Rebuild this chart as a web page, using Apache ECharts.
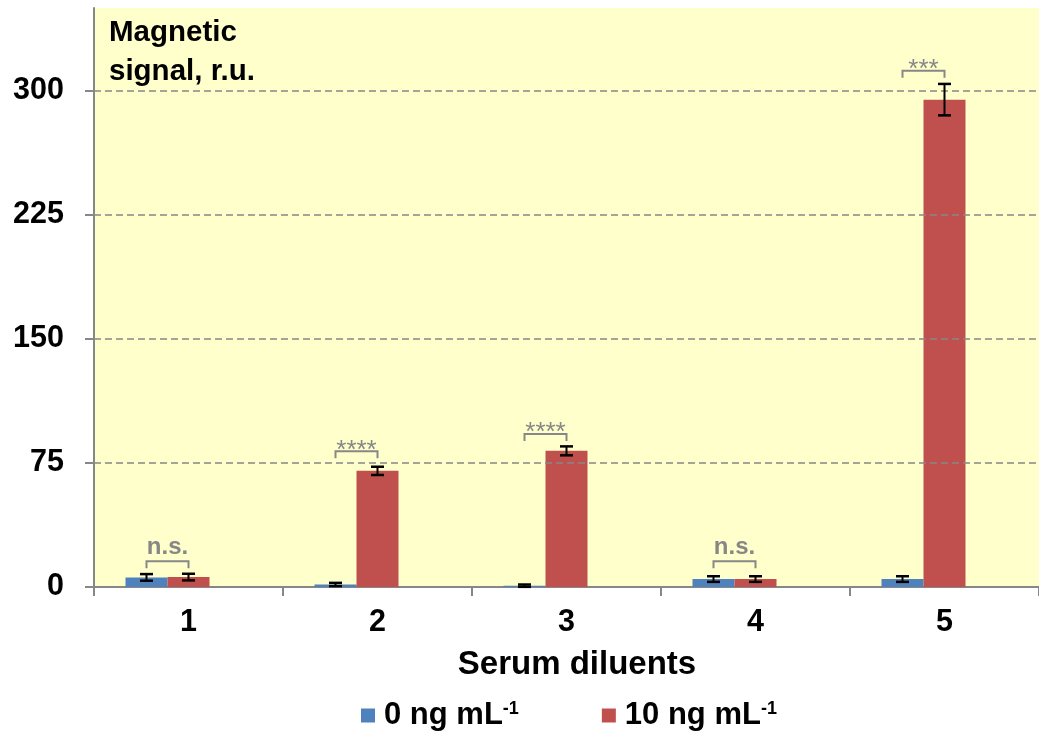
<!DOCTYPE html>
<html>
<head>
<meta charset="utf-8">
<script src="https://cdn.jsdelivr.net/npm/echarts@6/dist/echarts.min.js"></script>
<style>
html,body{margin:0;padding:0;background:#fff;}
#chart{width:1039px;height:735px;}
</style>
</head>
<body>
<div id="chart"></div>
<script>
const categories = ['1', '2', '3', '4', '5'];
const zeroNg = [5.8, 1.5, 0.8, 4.8, 4.8];
const tenNg = [6.0, 70.2, 82.3, 4.8, 294.6];
const zeroErr = [2.0, 1.0, 0.7, 1.7, 1.7];
const tenErr = [2.0, 2.5, 2.7, 1.7, 9.5];
const bracketLevel = [15.5, 82, 92.5, 15.5, 312];
const bracketLabel = ['n.s.', '****', '****', 'n.s.', '***'];
const yTicks = [0, 75, 150, 225, 300];
const seriesNames = ['0 ng mL-1', '10 ng mL-1'];

const FONT = '"Liberation Sans", Arial, sans-serif';
const BLUE = '#4F81BD';
const RED = '#C0504D';
const GRAY = '#878787';
const BAR_W = 42;

const chart = echarts.init(document.getElementById('chart'));

function errorRender(dx) {
  return function (params, api) {
    const i = api.value(0), m = api.value(1), e = api.value(2);
    const c = api.coord([i, m]);
    const lo = api.coord([i, m - e]);
    const hi = api.coord([i, m + e]);
    const x = c[0] + dx;
    const hw = 6.5;
    const st = { stroke: '#000', lineWidth: 2 };
    return {
      type: 'group',
      children: [
        { type: 'line', shape: { x1: x, y1: lo[1], x2: x, y2: hi[1] }, style: st },
        { type: 'line', shape: { x1: x - hw, y1: lo[1], x2: x + hw, y2: lo[1] }, style: { stroke: '#000', lineWidth: 2.5 } },
        { type: 'line', shape: { x1: x - hw, y1: hi[1], x2: x + hw, y2: hi[1] }, style: { stroke: '#000', lineWidth: 2.5 } }
      ]
    };
  };
}

function bracketRender(params, api) {
  const i = api.value(0), lv = api.value(1);
  const p = api.coord([i, lv]);
  const x1 = p[0] - BAR_W, x2 = p[0];
  const y = p[1];
  const leg = 7;
  const lbl = bracketLabel[params.dataIndex];
  const isStar = lbl.indexOf('*') >= 0;
  return {
    type: 'group',
    children: [
      {
        type: 'polyline',
        shape: { points: [[x1, y + leg], [x1, y], [x2, y], [x2, y + leg]] },
        style: { stroke: GRAY, lineWidth: 2, fill: null }
      },
      {
        type: 'text',
        style: {
          text: lbl,
          x: (x1 + x2) / 2,
          y: isStar ? y - 1 : y - 14,
          textAlign: 'center',
          textVerticalAlign: 'middle',
          fill: GRAY,
          font: (isStar ? 'normal ' : 'bold ') + (isStar ? 26 : 24) + 'px ' + FONT
        }
      }
    ]
  };
}

const option = {
  backgroundColor: '#ffffff',
  animation: false,
  title: [
    {
      text: 'Magnetic\nsignal, r.u.',
      left: 109, top: 13, padding: 0,
      textStyle: { fontFamily: FONT, fontWeight: 'bold', fontSize: 29.5, lineHeight: 39, color: '#000' }
    },
    {
      text: 'Serum diluents',
      left: 577, top: 648, textAlign: 'center', padding: 0,
      textStyle: { fontFamily: FONT, fontWeight: 'bold', fontSize: 33, color: '#000' }
    }
  ],
  legend: {
    data: seriesNames,
    left: 361, top: 700, padding: 0,
    icon: 'rect', itemWidth: 14, itemHeight: 14, itemGap: 83,
    formatter: function (name) {
      return name.replace('-1', '{sup|-1}');
    },
    textStyle: {
      fontFamily: FONT, fontWeight: 'bold', fontSize: 31, color: '#000', lineHeight: 30,
      padding: [0, 0, 0, 4],
      rich: {
        sup: { fontFamily: FONT, fontWeight: 'bold', fontSize: 18, color: '#000', verticalAlign: 'top', lineHeight: 30, padding: [0, 0, 10, 0] }
      }
    }
  },
  grid: {
    left: 94, right: -5, top: 8, bottom: 148,
    show: true, backgroundColor: '#FFFFCC', borderWidth: 0
  },
  xAxis: {
    type: 'category',
    data: categories,
    boundaryGap: true,
    axisLine: { show: true, lineStyle: { color: GRAY, width: 2 } },
    axisTick: { show: true, length: 9, alignWithLabel: false, lineStyle: { color: GRAY, width: 2 } },
    axisLabel: { fontFamily: FONT, fontWeight: 'bold', fontSize: 30.5, color: '#000', margin: 20 },
    splitLine: { show: false }
  },
  yAxis: {
    type: 'value',
    min: 0, max: 350, interval: 75,
    axisLine: { show: true, lineStyle: { color: GRAY, width: 2 } },
    axisTick: { show: true, inside: false, length: 9, lineStyle: { color: GRAY, width: 2 }, customValues: yTicks },
    axisLabel: { fontFamily: FONT, fontWeight: 'bold', fontSize: 30.5, color: '#000', margin: 30, customValues: yTicks },
    splitLine: { show: false }
  },
  series: [
    {
      name: seriesNames[0], type: 'bar', data: zeroNg, barWidth: BAR_W, barGap: '0%',
      itemStyle: { color: BLUE }, z: 2
    },
    {
      name: seriesNames[1], type: 'bar', data: tenNg, barWidth: BAR_W, barGap: '0%',
      itemStyle: { color: RED }, z: 2,
      markLine: {
        silent: true, symbol: 'none', label: { show: false },
        lineStyle: { color: GRAY, type: [7, 4], width: 1.5 },
        data: yTicks.filter(v => v > 0).map(v => ({ yAxis: v }))
      }
    },
    {
      name: 'spacer', type: 'bar', data: categories.map(() => null), barWidth: BAR_W, barGap: '0%',
      itemStyle: { color: 'transparent' }
    },
    {
      type: 'custom', z: 5,
      renderItem: errorRender(-BAR_W),
      data: zeroNg.map((v, i) => [i, v, zeroErr[i]]),
      encode: { x: 0, y: 1 }
    },
    {
      type: 'custom', z: 5,
      renderItem: errorRender(0),
      data: tenNg.map((v, i) => [i, v, tenErr[i]]),
      encode: { x: 0, y: 1 }
    },
    {
      type: 'custom', z: 5,
      renderItem: bracketRender,
      data: bracketLevel.map((v, i) => [i, v]),
      encode: { x: 0, y: 1 }
    }
  ]
};
chart.setOption(option);
</script>
</body>
</html>
